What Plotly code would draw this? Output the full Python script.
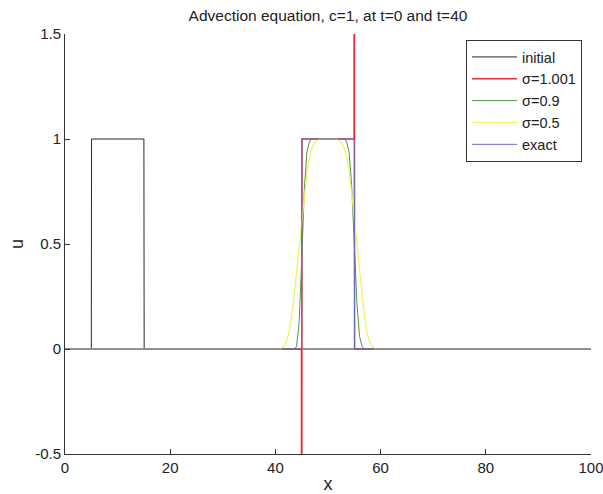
import plotly.graph_objects as go

# ---- data ----
initial_x = [0, 5, 5.05, 15, 15.05, 100]
initial_u = [0, 0, 1, 1, 0, 0]

s1001_x = [0, 44.95, 45.0, 45.05, 54.95, 55.0, 55.05, 100]
s1001_u = [0, 0, -4.0, 1, 1, 4.0, 0, 0]

s09_x = [0, 43.5, 44.0, 44.5, 45.0, 45.5, 46.0, 46.5, 47.0,
         53.0, 53.5, 54.0, 54.5, 55.0, 55.5, 56.0, 56.5, 57.0, 100]
s09_u = [0, 0, 0.01, 0.12, 0.42, 0.76, 0.94, 0.99, 1.0,
         1.0, 0.99, 0.94, 0.78, 0.5, 0.22, 0.06, 0.01, 0, 0]

s05_x = [0, 41.0, 41.5, 42.0, 42.5, 43.0, 43.5, 44.0, 44.5, 45.0, 45.5, 46.0,
         46.5, 47.0, 47.5, 48.0, 48.5, 51.5, 52.0, 52.5, 53.0, 53.5, 54.0,
         54.5, 55.0, 55.5, 56.0, 56.5, 57.0, 57.5, 58.0, 58.5, 59.0, 100]
s05_u = [0, 0, 0.01, 0.03, 0.07, 0.14, 0.24, 0.36, 0.49, 0.62, 0.74, 0.84,
         0.91, 0.96, 0.985, 0.995, 1.0, 1.0, 0.995, 0.985, 0.96, 0.92, 0.85,
         0.75, 0.63, 0.5, 0.37, 0.24, 0.14, 0.07, 0.03, 0.01, 0, 0]

exact_x = [0, 45, 45.05, 55, 55.05, 100]
exact_u = [0, 0, 1, 1, 0, 0]

series = [
    ("initial", initial_x, initial_u, "#2a2a2a", 1),
    ("σ=1.001", s1001_x, s1001_u, "#e3303a", 1.5),
    ("σ=0.9", s09_x, s09_u, "#4a9a48", 1),
    ("σ=0.5", s05_x, s05_u, "#f2f25a", 1.2),
    ("exact", exact_x, exact_u, "#6b6bbd", 1),
]

FONT = "Liberation Sans, Arial, sans-serif"

fig = go.Figure()
for name, xs, us, col, w in series:
    fig.add_trace(go.Scatter(x=xs, y=us, mode="lines", name=name,
                             line=dict(color=col, width=w)))

fig.update_layout(
    width=603, height=494,
    margin=dict(l=65, r=12, t=34, b=40),
    paper_bgcolor="white", plot_bgcolor="white",
    font=dict(family=FONT, size=15, color="#222222"),
    title=dict(text="Advection equation, c=1, at t=0 and t=40",
               x=0.5, xref="paper", xanchor="center",
               y=0.968, yref="container", yanchor="middle",
               font=dict(family=FONT, size=15.5, color="#222222")),
    showlegend=True,
    legend=dict(x=0.983, y=0.9857, xanchor="right", yanchor="top",
                bgcolor="white", bordercolor="#333333", borderwidth=1,
                itemwidth=45, font=dict(family=FONT, size=14.5, color="#222222"),
                tracegroupgap=0),
)
fig.update_xaxes(range=[0, 100], tickvals=[0, 20, 40, 60, 80, 100],
                 showgrid=False, zeroline=False, showline=True,
                 linecolor="#333333", linewidth=1, mirror=False,
                 ticks="inside", ticklen=5, tickcolor="#333333",
                 automargin=False, ticklabeloverflow="allow",
                 title=dict(text="x", standoff=4))
fig.update_yaxes(range=[-0.5, 1.5], tickvals=[-0.5, 0, 0.5, 1, 1.5],
                 ticktext=["-0.5", "0", "0.5", "1", "1.5"],
                 showgrid=False, zeroline=False, showline=True,
                 linecolor="#333333", linewidth=1, mirror=False,
                 ticks="inside", ticklen=5, tickcolor="#333333",
                 automargin=False, ticklabeloverflow="allow",
                 title=dict(text="u", standoff=6))

fig.write_html("out.html",
               config={"displayModeBar": False},
               post_script="document.body.style.margin='0';"
                           "document.body.style.overflow='hidden';")
